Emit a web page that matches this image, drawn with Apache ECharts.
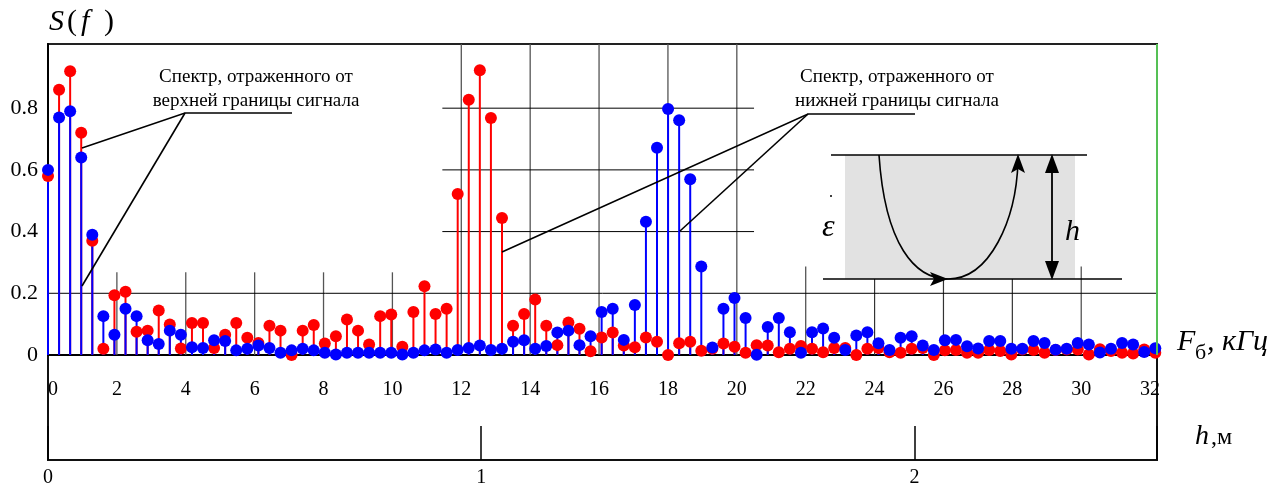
<!DOCTYPE html>
<html><head><meta charset="utf-8">
<script src="https://cdn.jsdelivr.net/npm/echarts@6/dist/echarts.min.js"></script>
<style>html,body{margin:0;padding:0;background:#fff}#c{width:1284px;height:488px}</style>
</head><body><div id="c"></div>
<script>
// ---- data ----
const STEP = 0.3215; // spacing of spectral lines on the F axis
const redSpectrum = [
0.58,0.86,0.92,0.72,0.37,0.02,0.194,0.205,0.075,0.079,
0.144,0.099,0.021,0.104,0.104,0.023,0.066,0.104,0.056,0.039,
0.095,0.079,0.0,0.079,0.097,0.037,0.061,0.115,0.079,0.034,
0.126,0.131,0.027,0.139,0.223,0.133,0.150,0.522,0.827,0.923,
0.768,0.444,0.095,0.133,0.180,0.095,0.032,0.105,0.085,0.012,
0.057,0.073,0.031,0.025,0.057,0.043,0.0,0.038,0.043,0.014,
0.020,0.037,0.027,0.007,0.032,0.031,0.009,0.020,0.029,0.020,
0.009,0.023,0.023,0.0,0.020,0.023,0.009,0.007,0.020,0.023,
0.0,0.015,0.016,0.007,0.007,0.016,0.013,0.002,0.018,0.016,
0.007,0.016,0.018,0.018,0.002,0.019,0.013,0.007,0.005,0.018,
0.007];
const blueSpectrum = [
0.60,0.77,0.79,0.64,0.39,0.126,0.066,0.150,0.126,0.048,
0.036,0.079,0.066,0.025,0.023,0.048,0.045,0.015,0.020,0.031,
0.023,0.007,0.015,0.020,0.015,0.007,0.002,0.007,0.007,0.007,
0.007,0.007,0.002,0.007,0.015,0.018,0.007,0.016,0.023,0.031,
0.016,0.020,0.043,0.048,0.020,0.029,0.073,0.079,0.032,0.061,
0.139,0.150,0.049,0.162,0.432,0.672,0.797,0.761,0.570,0.287,
0.024,0.150,0.185,0.120,0.001,0.091,0.120,0.074,0.007,0.074,
0.086,0.056,0.016,0.063,0.074,0.038,0.016,0.056,0.061,0.031,
0.016,0.048,0.049,0.028,0.021,0.045,0.045,0.020,0.020,0.045,
0.039,0.017,0.020,0.039,0.034,0.008,0.020,0.039,0.034,0.010,
0.022];
const F_MAX = 32.2, F_INTERVAL = 2;
const S_MAX = 1.008, S_INTERVAL = 0.2;
const H_MAX = 2.56, H_INTERVAL = 1;
const annotationTop = ['Спектр, отраженного от', 'верхней границы сигнала'];
const annotationBottom = ['Спектр, отраженного от', 'нижней границы сигнала'];

// ---- layout ----
const GL = 48, GT = 44, GW = 1109, GH = 311, G2H = 105;
const SERIF = '"Liberation Serif", "Times New Roman", serif';
const RED = '#ff0000', BLUE = '#0000ff';

const toPts = arr => arr.map((v, i) => [+(i * STEP).toFixed(4), v]);

const chart = echarts.init(document.getElementById('c'), null, {renderer: 'canvas'});
const option = {
  animation: false,
  backgroundColor: '#fff',
  grid: [
    {left: GL, top: GT, width: GW, height: GH, show: true, borderColor: '#222', borderWidth: 2, backgroundColor: 'transparent'},
    {left: GL, top: GT + GH, width: GW, height: G2H, show: true, borderColor: '#111', borderWidth: 2, backgroundColor: 'transparent'}
  ],
  xAxis: [
    {type: 'value', gridIndex: 0, min: 0, max: F_MAX, interval: F_INTERVAL,
     axisLine: {show: true, onZero: false, lineStyle: {color: '#000', width: 2}},
     axisTick: {show: false}, splitLine: {show: false},
     axisLabel: {show: true, margin: 25, color: '#000', fontSize: 20, fontFamily: SERIF, alignMinLabel: 'left',
       formatter: v => (Math.abs(v % F_INTERVAL) < 1e-6 ? String(Math.round(v)) : '')}},
    {type: 'value', gridIndex: 1, min: 0, max: H_MAX, interval: H_INTERVAL,
     axisLine: {show: true, onZero: false, lineStyle: {color: '#111', width: 2}},
     axisTick: {show: true, inside: true, length: 34, lineStyle: {color: '#000', width: 1.5}},
     splitLine: {show: false},
     axisLabel: {show: true, margin: 8, color: '#000', fontSize: 20, fontFamily: SERIF,
       formatter: v => (Math.abs(v - Math.round(v)) < 1e-6 ? String(Math.round(v)) : '')}}
  ],
  yAxis: [
    {type: 'value', gridIndex: 0, min: 0, max: S_MAX, interval: S_INTERVAL,
     axisLine: {show: true, lineStyle: {color: '#000', width: 2}},
     axisTick: {show: false}, splitLine: {show: false},
     axisLabel: {show: true, margin: 10, color: '#000', fontSize: 22, fontFamily: SERIF, padding: [6, 0, 0, 0],
       formatter: v => (v > 0.99 ? '' : (v === 0 ? '0' : v.toFixed(1)))}},
    {type: 'value', gridIndex: 1, min: 0, max: 1, show: false}
  ],
  series: [
    {type: 'bar', name: 'red stems', xAxisIndex: 0, yAxisIndex: 0, data: toPts(redSpectrum), barWidth: 2, barGap: '-100%',
     itemStyle: {color: RED}, z: 2, silent: true},
    {type: 'bar', name: 'blue stems', xAxisIndex: 0, yAxisIndex: 0, data: toPts(blueSpectrum), barWidth: 2, barGap: '-100%',
     itemStyle: {color: BLUE}, z: 3, silent: true},
    {type: 'scatter', name: 'red', xAxisIndex: 0, yAxisIndex: 0, data: toPts(redSpectrum), symbolSize: 12,
     itemStyle: {color: RED, opacity: 1}, z: 4, silent: true},
    {type: 'scatter', name: 'blue', xAxisIndex: 0, yAxisIndex: 0, data: toPts(blueSpectrum), symbolSize: 12,
     itemStyle: {color: BLUE, opacity: 1}, z: 5, silent: true}
  ]
};
chart.setOption(option);

// ---- decorations ----
const P = (x, y) => chart.convertToPixel({xAxisIndex: 0, yAxisIndex: 0}, [x, y]);
const g = [];
function seg(a, b, stroke, w, z) {
  g.push({type: 'line', shape: {x1: a[0], y1: a[1], x2: b[0], y2: b[1]}, style: {stroke, lineWidth: w}, z: z, silent: true});
}
// partial grid lines
[2, 4, 6, 8, 10].forEach(x => seg(P(x, 0), P(x, 0.268), '#555', 1.3, 1));
[12, 14, 16, 18, 20].forEach(x => seg(P(x, 0), P(x, S_MAX), '#555', 1.3, 1));
[22, 30].forEach(x => seg(P(x, 0), P(x, 0.287), '#555', 1.3, 1));
[24, 26, 28].forEach(x => seg(P(x, 0), P(x, 0.248), '#333', 1.2, 1));
seg(P(0, 0.2), P(F_MAX, 0.2), '#000', 1, 1);
[0.4, 0.6, 0.8].forEach(y => seg(P(11.45, y), P(20.5, y), '#000', 1, 1));

// right frame line (green)
const tr = P(F_MAX, S_MAX), br = P(F_MAX, 0);
seg([tr[0], tr[1]], [br[0], br[1]], '#55c055', 2, 20);

function txt(t, x, y, font, align, z) {
  g.push({type: 'text', silent: true, z: z || 30,
    style: {text: t, x, y, fill: '#000', font, textAlign: align || 'left', textVerticalAlign: 'middle'}});
}
const f19 = '19px ' + SERIF;
txt(annotationTop[0], 256, 77, f19, 'center');
txt(annotationTop[1], 256, 101, f19, 'center');
txt(annotationBottom[0], 897, 77, f19, 'center');
txt(annotationBottom[1], 897, 101, f19, 'center');

// leader lines
g.push({type: 'polyline', silent: true, z: 25, shape: {points: [[292, 113], [185, 113], [82, 148]]}, style: {stroke: '#000', lineWidth: 1.6, fill: null}});
seg([185, 113], [82, 286], '#000', 1.6, 25);
g.push({type: 'polyline', silent: true, z: 25, shape: {points: [[915, 114], [808, 114], [502, 252]]}, style: {stroke: '#000', lineWidth: 1.6, fill: null}});
seg([808, 114], [680, 231], '#000', 1.6, 25);

// inset diagram
g.push({type: 'rect', silent: true, z: 6, shape: {x: 845, y: 155, width: 230, height: 124}, style: {fill: '#e2e2e2'}});
seg([831, 155], [1087, 155], '#000', 1.5, 26);
seg([823, 279], [1122, 279], '#000', 1.5, 26);
g.push({type: 'bezierCurve', silent: true, z: 26, shape: {x1: 879, y1: 155, cpx1: 885, cpy1: 245, cpx2: 915, cpy2: 279, x2: 948, y2: 279}, style: {stroke: '#000', lineWidth: 1.6, fill: null}});
g.push({type: 'bezierCurve', silent: true, z: 26, shape: {x1: 948, y1: 279, cpx1: 990, cpy1: 279, cpx2: 1016, cpy2: 220, x2: 1018, y2: 162}, style: {stroke: '#000', lineWidth: 1.6, fill: null}});
g.push({type: 'polygon', silent: true, z: 27, shape: {points: [[948, 279], [930, 272], [934, 279], [930, 286]]}, style: {fill: '#000'}});
g.push({type: 'polygon', silent: true, z: 27, shape: {points: [[1018, 154], [1011, 173], [1018, 169], [1025, 173]]}, style: {fill: '#000'}});
seg([1052, 160], [1052, 274], '#000', 1.8, 26);
g.push({type: 'polygon', silent: true, z: 27, shape: {points: [[1052, 154], [1045, 173], [1059, 173]]}, style: {fill: '#000'}});
g.push({type: 'polygon', silent: true, z: 27, shape: {points: [[1052, 280], [1045, 261], [1059, 261]]}, style: {fill: '#000'}});
txt('h', 1065, 232, 'italic 30px ' + SERIF);
txt('ε', 822, 228, 'italic 32px ' + SERIF);
g.push({type: 'circle', silent: true, z: 27, shape: {cx: 831, cy: 196, r: 1}, style: {fill: '#000'}});

// axis titles
txt('S', 49, 22, 'italic 30px ' + SERIF);
txt('(', 67, 22, '30px ' + SERIF);
txt('f', 81, 22, 'italic 30px ' + SERIF);
txt(')', 104, 22, '30px ' + SERIF);
txt('F', 1177, 342, 'italic 30px ' + SERIF);
txt('б', 1195, 353, '22px ' + SERIF);
txt(', кГц', 1207, 342, 'italic 30px ' + SERIF);
txt('h', 1195, 437, 'italic 28px ' + SERIF);
txt(',м', 1211, 438, '24px ' + SERIF);

chart.setOption({graphic: {elements: g}});
</script></body></html>
